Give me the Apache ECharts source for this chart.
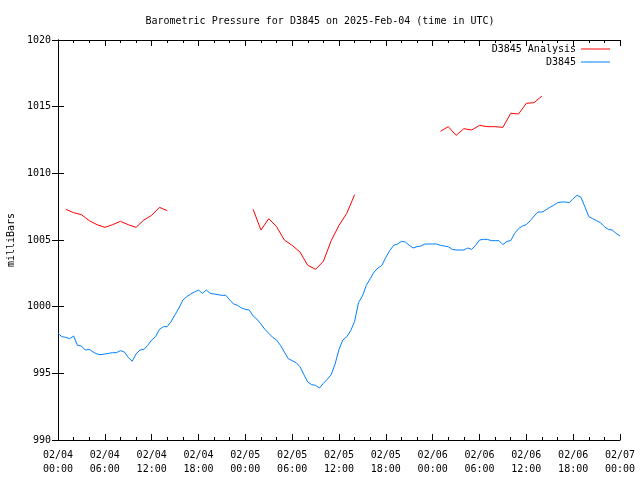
<!DOCTYPE html>
<html>
<head>
<meta charset="utf-8">
<script src="https://cdn.jsdelivr.net/npm/echarts@6/dist/echarts.min.js"></script>
<style>html,body{margin:0;padding:0;background:#fff}#c{width:640px;height:480px}</style>
</head>
<body>
<div id="c"></div>
<script>
// Hours since 2025-02-04 00:00 UTC
var xTickLabels = {0:'02/04\n00:00',6:'02/04\n06:00',12:'02/04\n12:00',18:'02/04\n18:00',24:'02/05\n00:00',30:'02/05\n06:00',36:'02/05\n12:00',42:'02/05\n18:00',48:'02/06\n00:00',54:'02/06\n06:00',60:'02/06\n12:00',66:'02/06\n18:00',72:'02/07\n00:00'};

// D3845 observations (half-hourly)
var obsHours = [];
for (var i = 0; i <= 144; i++) obsHours.push(i * 0.5);
var obsValues = [
998.0,997.75,997.7,997.6,997.8,997.1,997.05,996.75,996.8,996.6,
996.45,996.4,996.45,996.5,996.55,996.55,996.7,996.6,996.2,995.9,
996.45,996.75,996.8,997.1,997.5,997.75,998.3,998.5,998.5,998.9,
999.4,999.9,1000.5,1000.75,1000.95,1001.1,1001.25,1001.0,1001.25,1001.0,
1000.95,1000.9,1000.85,1000.85,1000.5,1000.2,1000.1,999.9,999.8,999.75,
999.3,999.05,998.7,998.3,998.0,997.7,997.5,997.1,996.6,996.1,
995.95,995.8,995.5,994.9,994.35,994.15,994.1,993.9,994.25,994.55,
994.9,995.7,996.8,997.5,997.75,998.2,998.9,1000.3,1000.8,1001.6,
1002.1,1002.6,1002.9,1003.1,1003.7,1004.2,1004.6,1004.7,1004.9,1004.85,
1004.6,1004.4,1004.5,1004.55,1004.7,1004.7,1004.7,1004.7,1004.6,1004.55,
1004.5,1004.3,1004.25,1004.25,1004.25,1004.4,1004.3,1004.6,1005.0,1005.05,
1005.05,1004.95,1004.95,1004.95,1004.65,1004.9,1004.95,1005.5,1005.85,1006.05,
1006.15,1006.45,1006.8,1007.1,1007.1,1007.25,1007.45,1007.6,1007.8,1007.85,
1007.85,1007.8,1008.1,1008.35,1008.2,1007.5,1006.75,1006.6,1006.45,1006.3,
1006.0,1005.8,1005.75,1005.5,1005.3
];

// D3845 Analysis (hourly, with gaps)
var anaHours1 = [1,2,3,4,5,6,7,8,9,10,11,12,13,14];
var anaValues1 = [1007.3,1007.05,1006.9,1006.45,1006.15,1005.95,1006.15,1006.4,1006.15,1005.95,1006.5,1006.85,1007.45,1007.2];
var anaHours2 = [25,26,27,28,29,30,31,32,33,34,35,36,37,38];
var anaValues2 = [1007.3,1005.75,1006.6,1006.0,1005.0,1004.6,1004.1,1003.1,1002.8,1003.4,1004.95,1006.1,1007.0,1008.4];
var anaHours3 = [49,50,51,52,53,54,55,56,57,58,59,60,61,62];
var anaValues3 = [1013.15,1013.5,1012.85,1013.35,1013.25,1013.6,1013.5,1013.5,1013.45,1014.5,1014.45,1015.25,1015.3,1015.8];

function zip(h, v) { return h.map(function (x, i) { return [x, v[i]]; }); }
var anaData = zip(anaHours1, anaValues1).concat([[20, null]], zip(anaHours2, anaValues2), [[44, null]], zip(anaHours3, anaValues3));
var obsData = zip(obsHours, obsValues);

var FONT = 'DejaVu Sans Mono';
var chart = echarts.init(document.getElementById('c'), null, {renderer: 'canvas'});
var axisLine = {show: true, lineStyle: {color: '#000', width: 1}};
chart.setOption({
  animation: false,
  backgroundColor: '#fff',
  title: {
    text: 'Barometric Pressure for D3845 on 2025-Feb-04 (time in UTC)',
    left: 'center', top: 11,
    textStyle: {fontFamily: FONT, fontSize: 10, fontWeight: 'normal', color: '#000'}
  },
  legend: {
    data: ['D3845 Analysis', 'D3845'],
    orient: 'vertical', align: 'right',
    right: 25, top: 38,
    icon: 'rect',
    itemWidth: 29, itemHeight: 1, itemGap: 1,
    textStyle: {fontFamily: FONT, fontSize: 10, color: '#000', lineHeight: 12}
  },
  grid: {left: 58, right: 20, top: 40, bottom: 40, containLabel: false, outerBoundsMode: 'none'},
  xAxis: [
    {type: 'value', min: 0, max: 72, interval: 6, position: 'bottom',
     axisLine: axisLine, splitLine: {show: false},
     axisTick: {show: true, inside: true, length: 6, lineStyle: {color: '#000'}},
     minorTick: {show: true, splitNumber: 3, length: 3, lineStyle: {color: '#000'}},
     axisLabel: {fontFamily: FONT, fontSize: 10, color: '#000', margin: 8, lineHeight: 14,
       formatter: function (v) { return xTickLabels[v] || ''; }}},
    {type: 'value', min: 0, max: 72, interval: 6, position: 'top',
     axisLine: axisLine, splitLine: {show: false},
     axisTick: {show: true, inside: true, length: 6, lineStyle: {color: '#000'}},
     minorTick: {show: true, splitNumber: 3, length: 3, lineStyle: {color: '#000'}},
     axisLabel: {show: false}}
  ],
  yAxis: [
    {type: 'value', min: 990, max: 1020, interval: 5, position: 'left',
     name: 'milliBars', nameLocation: 'middle', nameGap: 41, nameRotate: 90,
     nameTextStyle: {fontFamily: FONT, fontSize: 10, color: '#000'},
     axisLine: axisLine, splitLine: {show: false},
     axisTick: {show: true, inside: true, length: 6, lineStyle: {color: '#000'}},
     axisLabel: {fontFamily: FONT, fontSize: 10, color: '#000', margin: 7,
       formatter: function (v) { return String(v); }}},
    {type: 'value', min: 990, max: 1020, interval: 5, position: 'right',
     axisLine: axisLine, splitLine: {show: false},
     axisTick: {show: true, inside: true, length: 6, lineStyle: {color: '#000'}},
     axisLabel: {show: false}}
  ],
  series: [
    {name: 'D3845 Analysis', type: 'line', data: anaData, showSymbol: false, symbol: 'none',
     connectNulls: false, lineStyle: {color: '#ff0000', width: 1}, itemStyle: {color: '#ff0000'}},
    {name: 'D3845', type: 'line', data: obsData, showSymbol: false, symbol: 'none',
     lineStyle: {color: '#0080ff', width: 1}, itemStyle: {color: '#0080ff'}}
  ]
});
</script>
</body>
</html>
